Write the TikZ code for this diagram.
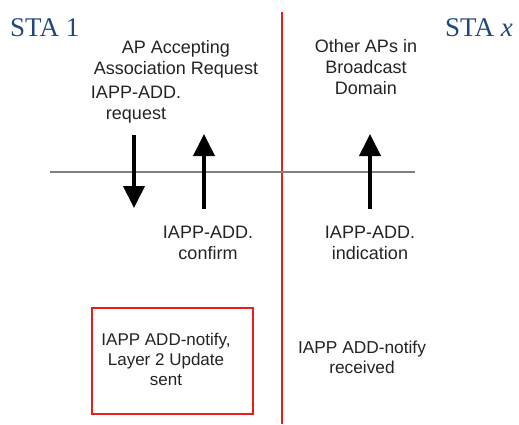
\documentclass[tikz,border=0pt]{standalone}
\usepackage{fontspec}
\setmainfont{Liberation Sans}
\newfontfamily\staf{Liberation Serif}
\usetikzlibrary{arrows.meta}
\definecolor{stablue}{RGB}{31,73,125}
\definecolor{txt}{RGB}{35,35,35}
\definecolor{redl}{RGB}{235,30,30}
\begin{document}
\begin{tikzpicture}[x=1pt,y=-1pt,
  lbl/.style={align=center,text=txt,font=\fontsize{18}{21}\selectfont,inner sep=0pt},
  sta/.style={text=stablue,font=\staf\fontsize{27}{30}\selectfont,inner sep=0pt,anchor=base west},
  bigarrow/.style={line width=4pt,-{Triangle[width=21pt,length=22pt]}},
  redbox/.style={draw=redl,line width=2.2pt,minimum width=161pt,minimum height=106pt,inner sep=0pt}]
\useasboundingbox (0,0) rectangle (519,424);
% titles
\node[sta] (sta1) at (10,36) {STA 1};
\node[sta] (stax) at (445,36) {STA \textit{x}};
% divider lines
\coordinate (vtop) at (282,12);
\coordinate (vbot) at (282,424);
\draw[redl,line width=2pt] (vtop) -- (vbot);
\coordinate (hl) at (50,172);
\coordinate (hr) at (415,172);
\draw[gray,line width=2pt] (hl) -- (hr);
% labels
\node[lbl] (ap) at (176,59) {AP Accepting\\Association Request};
\node[lbl] (req) at (136,105) {IAPP-ADD.\\request};
\node[lbl] (other) at (366,67) {Other APs in\\Broadcast\\Domain};
\node[lbl] (conf) at (208,243) {IAPP-ADD.\\confirm};
\node[lbl] (ind) at (370,243) {IAPP-ADD.\\indication};
% arrows
\coordinate (d1) at (134,135);
\coordinate (d2) at (134,208);
\draw[bigarrow] (d1) -- (d2);
\coordinate (u1) at (204,209);
\coordinate (u2) at (204,134);
\draw[bigarrow] (u1) -- (u2);
\coordinate (w1) at (370,209);
\coordinate (w2) at (370,134);
\draw[bigarrow] (w1) -- (w2);
% boxes
\node[redbox] (box) at (172.5,361) {};
\node[lbl,font=\fontsize{17}{20}\selectfont] (notify) at (166,359) {IAPP ADD-notify,\\Layer 2 Update\\sent};
\node[lbl,font=\fontsize{17.3}{20}\selectfont] (recv) at (362,357) {IAPP ADD-notify\\received};
\end{tikzpicture}
\end{document}
